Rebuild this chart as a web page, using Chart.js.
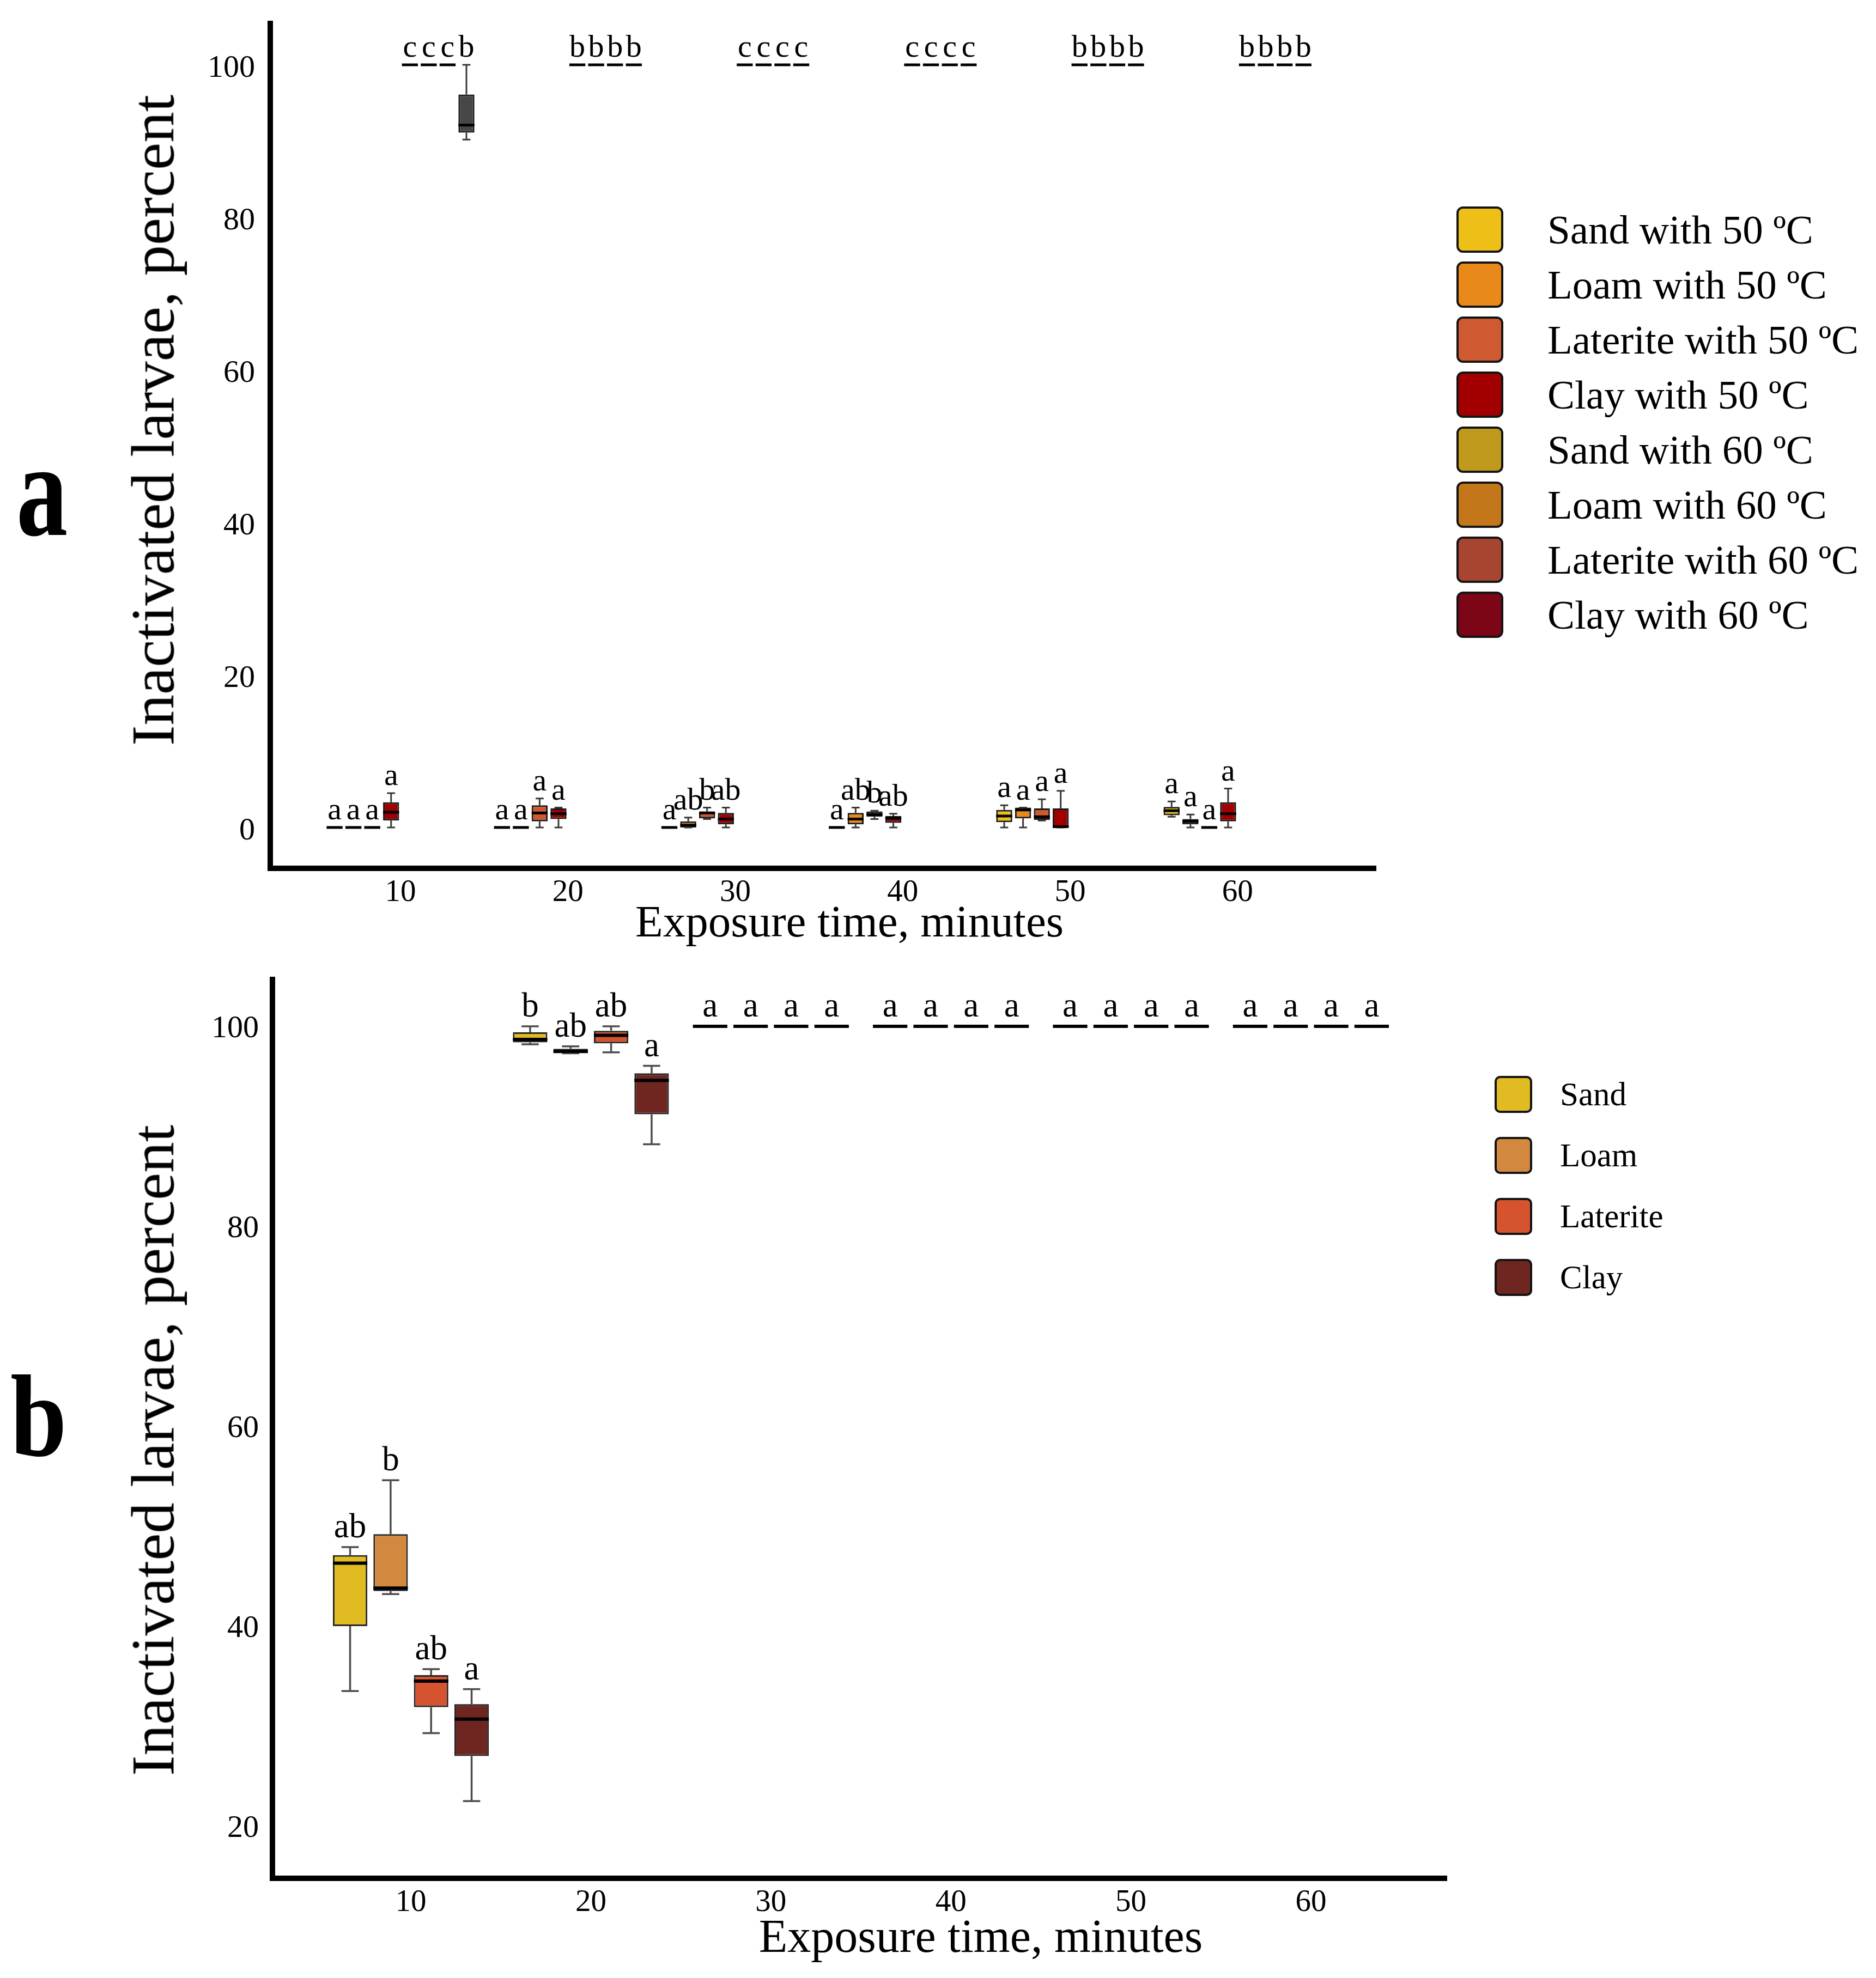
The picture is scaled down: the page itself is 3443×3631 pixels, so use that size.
<!DOCTYPE html>
<html>
<head>
<meta charset="utf-8">
<script src="https://cdn.jsdelivr.net/npm/chart.js@4.4.1/dist/chart.umd.min.js"></script>
<style>
  html, body { margin: 0; padding: 0; background: #fff; }
  body { width: 3443px; height: 3631px; position: relative; overflow: hidden;
         font-family: 'Liberation Serif', 'DejaVu Serif', serif; color: #000; }
  canvas { position: absolute; left: 0; }
  #chartA { top: 0; }
  #chartB { top: 1760px; }
  .txt { position: absolute; white-space: nowrap; line-height: 1; }
  .swatch { position: absolute; box-sizing: border-box; border: 4px solid #141414; }
</style>
</head>
<body>
<canvas id="chartA" width="3443" height="1760"></canvas>
<canvas id="chartB" width="3443" height="1871"></canvas>
<script>
// exposure times, minutes
const times = [10, 20, 30, 40, 50, 60];
const yTicksA = [0, 20, 40, 60, 80, 100];
const yTicksB = [20, 40, 60, 80, 100];

// panel a, one row per exposure time: [min, q1, median, q3, max]
const sand50 = [[0, 0, 0, 0, 0], [0, 0, 0, 0, 0], [0, 0, 0, 0, 0], [0, 0, 0, 0, 0], [0, 0.7, 1.5, 2.3, 2.9], [1.4, 1.6, 2.2, 2.7, 3.4]];
const loam50 = [[0, 0, 0, 0, 0], [0, 0, 0, 0, 0], [0, 0, 0.3, 0.8, 1.3], [0, 0.4, 1.1, 1.9, 2.6], [0, 1.2, 2.3, 2.6, 2.6], [0, 0.4, 0.8, 1.1, 1.7]];
const laterite50 = [[0, 0, 0, 0, 0], [0, 0.8, 1.9, 2.9, 3.8], [1.1, 1.2, 1.9, 2.1, 2.6], [1.1, 1.4, 1.7, 2.1, 2.2], [0.9, 1.0, 1.4, 2.5, 3.7], [0, 0, 0, 0, 0]];
const clay50 = [[0, 0.9, 2.0, 3.3, 4.5], [0, 1.1, 1.8, 2.5, 2.6], [0, 0.4, 1.1, 1.9, 2.6], [0, 0.6, 1.2, 1.5, 1.8], [0, 0, 0.1, 2.5, 4.8], [0, 0.8, 1.8, 3.3, 5.1]];
const sand60 = [[100, 100, 100, 100, 100], [100, 100, 100, 100, 100], [100, 100, 100, 100, 100], [100, 100, 100, 100, 100], [100, 100, 100, 100, 100], [100, 100, 100, 100, 100]];
const loam60 = [[100, 100, 100, 100, 100], [100, 100, 100, 100, 100], [100, 100, 100, 100, 100], [100, 100, 100, 100, 100], [100, 100, 100, 100, 100], [100, 100, 100, 100, 100]];
const laterite60 = [[100, 100, 100, 100, 100], [100, 100, 100, 100, 100], [100, 100, 100, 100, 100], [100, 100, 100, 100, 100], [100, 100, 100, 100, 100], [100, 100, 100, 100, 100]];
const clay60 = [[90.2, 91.1, 92.1, 96.1, 100], [100, 100, 100, 100, 100], [100, 100, 100, 100, 100], [100, 100, 100, 100, 100], [100, 100, 100, 100, 100], [100, 100, 100, 100, 100]];

// significance letters, panel a
const sand50Letters = ['a', 'a', 'a', 'a', 'a', 'a'];
const loam50Letters = ['a', 'a', 'ab', 'ab', 'a', 'a'];
const laterite50Letters = ['a', 'a', 'b', 'b', 'a', 'a'];
const clay50Letters = ['a', 'a', 'ab', 'ab', 'a', 'a'];
const sand60Letters = ['c', 'b', 'c', 'c', 'b', 'b'];
const loam60Letters = ['c', 'b', 'c', 'c', 'b', 'b'];
const laterite60Letters = ['c', 'b', 'c', 'c', 'b', 'b'];
const clay60Letters = ['b', 'b', 'c', 'c', 'b', 'b'];

// panel b: [min, q1, median, q3, max]
const sand = [[33.5, 40.0, 46.3, 47.1, 47.9], [98.2, 98.4, 98.7, 99.4, 100], [100, 100, 100, 100, 100], [100, 100, 100, 100, 100], [100, 100, 100, 100, 100], [100, 100, 100, 100, 100]];
const loam = [[43.2, 43.5, 43.8, 49.2, 54.6], [97.3, 97.3, 97.5, 97.75, 98.0], [100, 100, 100, 100, 100], [100, 100, 100, 100, 100], [100, 100, 100, 100, 100], [100, 100, 100, 100, 100]];
const laterite = [[29.3, 31.9, 34.5, 35.1, 35.7], [97.4, 98.3, 99.1, 99.55, 100], [100, 100, 100, 100, 100], [100, 100, 100, 100, 100], [100, 100, 100, 100, 100], [100, 100, 100, 100, 100]];
const clay = [[22.5, 27.0, 30.7, 32.2, 33.7], [88.2, 91.2, 94.6, 95.3, 96.05], [100, 100, 100, 100, 100], [100, 100, 100, 100, 100], [100, 100, 100, 100, 100], [100, 100, 100, 100, 100]];

const sandLetters = ['ab', 'b', 'a', 'a', 'a', 'a'];
const loamLetters = ['b', 'ab', 'a', 'a', 'a', 'a'];
const lateriteLetters = ['ab', 'ab', 'a', 'a', 'a', 'a'];
const clayLetters = ['a', 'a', 'a', 'a', 'a', 'a'];

const namesA = ['Sand with 50 ºC', 'Loam with 50 ºC', 'Laterite with 50 ºC', 'Clay with 50 ºC',
                'Sand with 60 ºC', 'Loam with 60 ºC', 'Laterite with 60 ºC', 'Clay with 60 ºC'];
const namesB = ['Sand', 'Loam', 'Laterite', 'Clay'];

const coloursA = ['#edbf17', '#e8891a', '#cf5a31', '#a20000', '#bf9a1c', '#c4771a', '#a84530', '#7c0516'];
const coloursB = ['#e0bb22', '#d3883f', '#d5532f', '#6f2620'];
// the 10 minute clay box at 60 ºC is drawn grey in the original
const clay60Fill = ['#474747', '#7c0516', '#7c0516', '#7c0516', '#7c0516', '#7c0516'];

const FONT = 'Liberation Serif';

function boxSet(label, stats, letters, fill, border) {
  return {
    label,
    data: times.map((t, i) => ({ x: t, y: [stats[i][1], stats[i][3]] })),
    stats,
    letters,
    backgroundColor: fill,
    borderColor: border,
    borderWidth: 3,
    borderSkipped: false,
    categoryPercentage: 0.9,
    barPercentage: 0.85
  };
}

// whiskers, caps, medians and letters on top of the floating bars
const boxPlot = {
  id: 'boxPlot',
  afterDatasetsDraw(chart, args, o) {
    const ctx = chart.ctx;
    const ys = chart.scales.y;
    chart.data.datasets.forEach((ds, di) => {
      chart.getDatasetMeta(di).data.forEach((bar, i) => {
        const [lo, q1, med, q3, hi] = ds.stats[i];
        const cx = bar.x, w = bar.width, cap = w * 0.25;
        const pLo = ys.getPixelForValue(lo), pQ1 = ys.getPixelForValue(q1);
        const pMed = ys.getPixelForValue(med), pQ3 = ys.getPixelForValue(q3);
        const pHi = ys.getPixelForValue(hi);
        ctx.save();
        ctx.strokeStyle = o.whiskerColor;
        ctx.lineWidth = o.whiskerWidth;
        ctx.beginPath();
        ctx.moveTo(cx, pQ3); ctx.lineTo(cx, pHi);
        ctx.moveTo(cx, pQ1); ctx.lineTo(cx, pLo);
        ctx.moveTo(cx - cap, pHi); ctx.lineTo(cx + cap, pHi);
        ctx.moveTo(cx - cap, pLo); ctx.lineTo(cx + cap, pLo);
        ctx.stroke();
        ctx.strokeStyle = '#000';
        ctx.lineWidth = o.medianWidth;
        ctx.beginPath();
        ctx.moveTo(cx - w / 2, pMed); ctx.lineTo(cx + w / 2, pMed);
        ctx.stroke();
        ctx.fillStyle = '#000';
        ctx.font = o.letterSize + 'px "' + FONT + '"';
        ctx.textAlign = 'center';
        ctx.textBaseline = 'alphabetic';
        ctx.fillText(ds.letters[i], cx, pHi - o.letterGap);
        ctx.restore();
      });
    });
  }
};

function makeChart(id, datasets, s) {
  return new Chart(document.getElementById(id), {
    type: 'bar',
    data: { datasets },
    plugins: [boxPlot],
    options: {
      responsive: false,
      animation: false,
      devicePixelRatio: 1,
      layout: { padding: { left: 0, top: s.top, right: s.right, bottom: 0 } },
      plugins: {
        legend: { display: false },
        tooltip: { enabled: false },
        boxPlot: s.box
      },
      scales: {
        x: {
          type: 'linear', min: s.xMin, max: s.xMax, offset: false,
          grid: { display: false, drawTicks: false },
          border: { display: true, width: 10, color: '#000' },
          ticks: { font: { family: FONT, size: 57 }, color: '#000', padding: 11, maxRotation: 0, autoSkip: false },
          afterBuildTicks: sc => { sc.ticks = times.map(v => ({ value: v })); },
          afterFit: sc => { sc.height = s.xHeight; }
        },
        y: {
          type: 'linear', min: s.yMin, max: s.yMax,
          // tick marks are hidden, their length only spaces the labels from the axis
          grid: { display: false, drawTicks: true, tickLength: s.yPad },
          border: { display: true, width: 10, color: '#000' },
          ticks: { font: { family: FONT, size: 58 }, color: '#000', padding: 0, labelOffset: s.yLabelShift },
          afterBuildTicks: sc => { sc.ticks = s.yTicks.map(v => ({ value: v })); },
          afterFit: sc => { sc.width = s.yWidth; }
        }
      }
    }
  });
}

const statsA = [sand50, loam50, laterite50, clay50, sand60, loam60, laterite60, clay60];
const lettersA = [sand50Letters, loam50Letters, laterite50Letters, clay50Letters,
                  sand60Letters, loam60Letters, laterite60Letters, clay60Letters];
const setsA = statsA.map((st, i) =>
  boxSet(namesA[i], st, lettersA[i], i === 7 ? clay60Fill : coloursA[i], '#1a1a1a'));

makeChart('chartA', setsA, {
  top: 43, right: 918, xHeight: 166, yWidth: 496, yPad: 28, yLabelShift: 7,
  xMin: 2.22, xMax: 68.26, yMin: -5.36, yMax: 105.43, yTicks: yTicksA,
  box: { whiskerColor: '#3a3a3a', whiskerWidth: 3, medianWidth: 5, letterSize: 58, letterGap: 15 }
});

const statsB = [sand, loam, laterite, clay];
const lettersB = [sandLetters, loamLetters, lateriteLetters, clayLetters];
const setsB = statsB.map((st, i) => boxSet(namesB[i], st, lettersB[i], coloursB[i], '#262626'));

makeChart('chartB', setsB, {
  top: 38, right: 788, xHeight: 183, yWidth: 500, yPad: 25, yLabelShift: 5,
  xMin: 2.31, xMax: 67.54, yMin: 14.77, yMax: 104.69, yTicks: yTicksB,
  box: { whiskerColor: '#4d4d4d', whiskerWidth: 3.5, medianWidth: 6, letterSize: 63, letterGap: 18 }
});

// text placed by baseline, Liberation Serif with line-height 1
function addText(text, o) {
  const el = document.createElement('div');
  el.className = 'txt';
  el.textContent = text;
  el.style.fontSize = o.size + 'px';
  el.style.top = (o.base - 0.8375 * o.size) + 'px';
  if (o.weight) el.style.fontWeight = o.weight;
  if (o.center !== undefined) {
    el.style.left = (o.center - 900) + 'px';
    el.style.width = '1800px';
    el.style.textAlign = 'center';
  } else {
    el.style.left = o.left + 'px';
  }
  if (o.transform) {
    el.style.transform = o.transform;
    el.style.transformOrigin = o.origin || 'center';
  }
  document.body.appendChild(el);
  return el;
}

function addYTitle(text, cx, cy, size) {
  const el = document.createElement('div');
  el.className = 'txt';
  el.textContent = text;
  Object.assign(el.style, {
    fontSize: size + 'px', width: '1400px', height: size + 'px', textAlign: 'center',
    left: (cx - 700) + 'px', top: (cy - size / 2) + 'px', transform: 'rotate(-90deg)'
  });
  document.body.appendChild(el);
}

function addLegend(names, colours, o) {
  names.forEach((name, i) => {
    const top = o.top + i * o.step;
    const sw = document.createElement('div');
    sw.className = 'swatch';
    Object.assign(sw.style, {
      left: o.left + 'px', top: top + 'px', width: o.w + 'px', height: o.h + 'px',
      background: colours[i], borderRadius: o.radius + 'px'
    });
    document.body.appendChild(sw);
    addText(name, { left: o.textLeft, base: top + o.h / 2 + 0.331 * o.size, size: o.size });
  });
}

addYTitle('Inactivated larvae, percent', 280, 771, 113);
addYTitle('Inactivated larvae, percent', 280, 2662, 113);
addText('Exposure time, minutes', { center: 1559, base: 1720, size: 83 });
addText('Exposure time, minutes', { center: 1800, base: 3583, size: 86 });
addText('a', { left: 30, base: 982, size: 245, weight: 'bold', transform: 'scaleX(0.77)', origin: 'left' });
addText('b', { left: 19, base: 2672, size: 214, weight: 'bold', transform: 'scaleX(0.87)', origin: 'left' });

addLegend(namesA, coloursA, { left: 2673, top: 379, step: 101, w: 86, h: 85, radius: 12, textLeft: 2840, size: 75 });
addLegend(namesB, coloursB, { left: 2743, top: 1975, step: 112, w: 69, h: 68, radius: 10, textLeft: 2863, size: 61 });
</script>
</body>
</html>
